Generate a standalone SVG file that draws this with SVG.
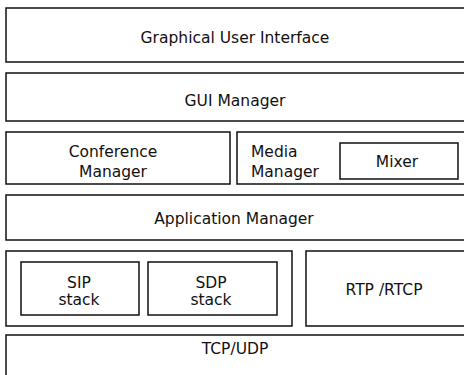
<svg xmlns="http://www.w3.org/2000/svg" width="464" height="375" viewBox="0 0 464 375">
<style>
.b{fill:#fff;stroke:#111;stroke-width:1.5}
.t{font-family:"DejaVu Sans",Verdana,sans-serif;font-size:15.5px;fill:#111;text-anchor:middle}
.l{text-anchor:start}
</style>
<rect width="464" height="375" fill="#fff"/>
<g id="gui"><rect class="b" x="6" y="8" width="470" height="54"/><text class="t" x="235" y="43">Graphical User Interface</text></g>
<g id="gui-manager"><rect class="b" x="6" y="73" width="470" height="48"/><text class="t" x="235" y="106">GUI Manager</text></g>
<g id="conference-manager"><rect class="b" x="6" y="132" width="224" height="52"/><text class="t" x="113" y="157">Conference</text><text class="t" x="113" y="177">Manager</text></g>
<g id="media-manager"><rect class="b" x="237" y="132" width="240" height="52"/><text class="t l" x="251" y="157">Media</text><text class="t l" x="251" y="177">Manager</text></g>
<g id="mixer"><rect class="b" x="340" y="143" width="118" height="36"/><text class="t" x="397" y="167">Mixer</text></g>
<g id="application-manager"><rect class="b" x="6" y="195" width="470" height="45"/><text class="t" x="234" y="224">Application Manager</text></g>
<g id="stacks"><rect class="b" x="6" y="251" width="286" height="75"/></g>
<g id="sip"><rect class="b" x="21" y="262" width="118" height="53"/><text class="t" x="79" y="288">SIP</text><text class="t" x="79" y="305">stack</text></g>
<g id="sdp"><rect class="b" x="148" y="262" width="129" height="53"/><text class="t" x="211" y="288">SDP</text><text class="t" x="211" y="305">stack</text></g>
<g id="rtp"><rect class="b" x="306" y="251" width="170" height="75"/><text class="t" x="384" y="295">RTP /RTCP</text></g>
<g id="tcp"><rect class="b" x="6" y="335" width="470" height="60"/><text class="t" x="235" y="354">TCP/UDP</text></g>
<g id="connectors"/>
</svg>
